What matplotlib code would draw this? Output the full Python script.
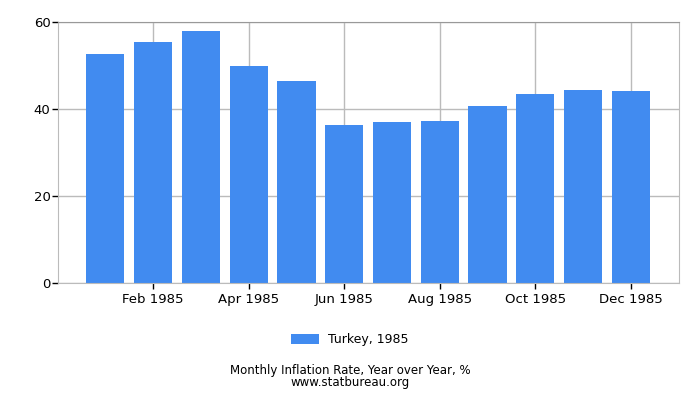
import matplotlib
matplotlib.use("Agg")
import matplotlib.pyplot as plt
import numpy as np

months = ["Jan", "Feb", "Mar", "Apr", "May", "Jun",
          "Jul", "Aug", "Sep", "Oct", "Nov", "Dec"]
values = [52.7, 55.5, 58.0, 49.9, 46.5, 36.4, 37.0, 37.2, 40.7, 43.5, 44.4, 44.2]
tick_labels = [m + " 1985" for m in months]
series_name = "Turkey, 1985"

W, H = 700, 400
fig = plt.figure(figsize=(W / 100, H / 100), dpi=100)
ax = fig.add_axes([57.5 / W, (H - 283.3) / H, (678.7 - 57.5) / W, (283.3 - 22.3) / H])

x = np.arange(len(months))
ax.bar(x, values, width=0.8, color="#418bf0", zorder=2, label=series_name)

ax.set_xlim(-1, 12)
ax.set_ylim(0, 60)
ax.set_yticks([0, 20, 40, 60])
ax.set_xticks(x[1::2])
ax.set_xticklabels(tick_labels[1::2])
ax.tick_params(axis="both", labelsize=9.5, length=4, width=1, color="black")
ax.tick_params(axis="x", pad=3)
ax.tick_params(axis="y", pad=1)
ax.grid(True, color="#bbbbbb", linewidth=1, zorder=0)

for s in ["top", "right", "left", "bottom"]:
    ax.spines[s].set_color("#bbbbbb")
ax.spines["top"].set_color("#999999")

leg = fig.legend(loc="center", bbox_to_anchor=(350 / W, 1 - 340 / H), frameon=False,
                 fontsize=9, handlelength=2.2, handleheight=0.8)
fig.text(0.5, 1 - 370.5 / H, "Monthly Inflation Rate, Year over Year, %", ha="center", va="center", fontsize=8.5)
fig.text(0.5, 1 - 382.5 / H, "www.statbureau.org", ha="center", va="center", fontsize=8.5)

fig.savefig("out.png", dpi=100)
